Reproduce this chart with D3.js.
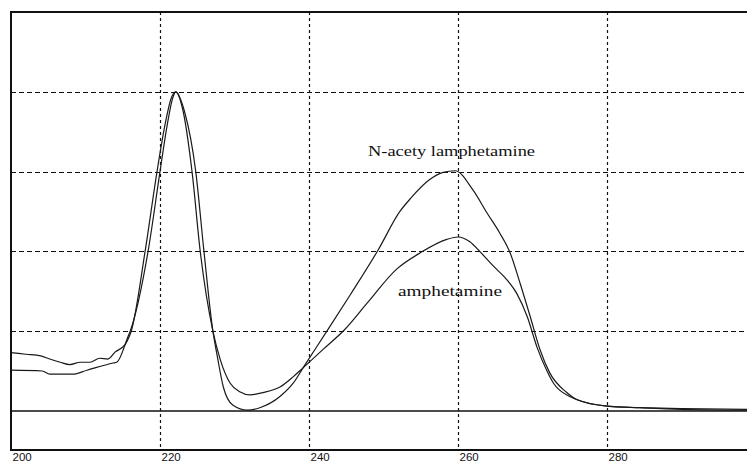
<!DOCTYPE html>
<html>
<head>
<meta charset="utf-8">
<script src="https://cdn.jsdelivr.net/npm/d3@7"></script>
<style>
body { margin: 0; background: #fff; }
svg { display: block; }
</style>
</head>
<body>
<div class="chart-parent"></div>
<script>
// wavelength (nm) / absorbance pairs
var amphetamine = [
  [200,0.73],[202,0.71],[204,0.69],[205.2,0.65],[206.6,0.61],[207.9,0.58],[209.3,0.61],
  [210.6,0.61],[211.9,0.66],[213,0.65],[214,0.74],[215.3,0.83],[216.2,1.02],[218,2.0],
  [219.6,3.0],[220.7,3.6],[221.5,3.92],[222.1,4.0],[223,3.8],[224.3,3.0],[225.4,2.0],
  [227.1,1.0],[228.1,0.64],[229.4,0.35],[230.7,0.24],[232.1,0.20],[233.8,0.23],[236.1,0.30],
  [237.9,0.43],[239.2,0.54],[242,0.78],[244.8,1.02],[247.8,1.35],[251.8,1.78],
  [254.9,1.98],[258.5,2.15],[260,2.18],[261.6,2.12],[263,1.99],[264.7,1.82],[266.6,1.64],
  [267.9,1.47],[269.3,1.18],[270.6,0.80],[271.9,0.51],[272.8,0.35],[275,0.18],[276,0.14],
  [280,0.06],[284.4,0.04],[290,0.02],[299,0.01]
];
var nAcetylamphetamine = [
  [200,0.51],[204.2,0.50],[205.2,0.46],[208.3,0.46],[210.2,0.51],[213.7,0.60],[214.2,0.61],
  [215.7,0.93],[216,1.0],[218.4,2.0],[220,3.0],[221,3.6],[221.7,3.92],[222.1,4.0],[223.3,3.75],
  [224.8,3.0],[225.9,2.0],[227.1,1.0],[227.7,0.68],[228.5,0.30],[229.8,0.07],[231.7,0.01],
  [233.4,0.04],[236.1,0.18],[237.9,0.35],[239.2,0.54],[242.4,1.0],[245.5,1.45],[249.3,2.02],
  [252.2,2.50],[253.6,2.66],[256.2,2.90],[258,2.99],[259.6,3.01],[262,2.77],[263.9,2.48],
  [265.6,2.23],[267,1.98],[268.3,1.61],[269.7,1.18],[271,0.77],[272.3,0.48],[274.6,0.23],
  [276,0.14],[280,0.06],[284.4,0.04],[290,0.03],[299,0.02]
];
var xTicks = [200, 220, 240, 260, 280];
var yGrid = [1, 2, 3, 4];
var labels = ["N-acety lamphetamine", "amphetamine"];

drawChart();

function drawChart(){
  var width = 747, height = 464;
  var left = 11, top = 12, bottom = 450;

  var x = d3.scaleLinear().domain([200, 300]).range([left, left + 745]);
  var y = d3.scaleLinear().domain([-0.49, 5]).range([bottom, top]);

  var svg = d3.select(".chart-parent").append("svg")
    .attr("width", width)
    .attr("height", height);

  // dashed horizontal grid
  svg.selectAll(".hgrid")
    .data(yGrid)
    .enter()
    .append("line")
    .attr("class", "hgrid")
    .attr("x1", left).attr("x2", width)
    .attr("y1", function(d){ return Math.round(y(d)) + 0.5; })
    .attr("y2", function(d){ return Math.round(y(d)) + 0.5; })
    .attr("stroke", "#111")
    .attr("stroke-width", 1.2)
    .attr("stroke-dasharray", "5,3");

  // dotted vertical grid
  svg.selectAll(".vgrid")
    .data(xTicks.slice(1))
    .enter()
    .append("line")
    .attr("class", "vgrid")
    .attr("x1", function(d){ return Math.round(x(d)) + 0.5; })
    .attr("x2", function(d){ return Math.round(x(d)) + 0.5; })
    .attr("y1", top).attr("y2", bottom)
    .attr("stroke", "#111")
    .attr("stroke-width", 1.2)
    .attr("stroke-dasharray", "3,3");

  // zero line
  svg.append("line")
    .attr("x1", left).attr("x2", width)
    .attr("y1", y(0)).attr("y2", y(0))
    .attr("stroke", "#111")
    .attr("stroke-width", 1.5);

  // frame
  svg.append("path")
    .attr("d", "M" + width + "," + top + "H" + left + "V" + bottom + "H" + width)
    .attr("fill", "none")
    .attr("stroke", "#111")
    .attr("stroke-width", 2);

  var line = d3.line()
    .x(function(d){ return x(d[0]); })
    .y(function(d){ return y(d[1]); })
    .curve(d3.curveMonotoneX);

  svg.selectAll(".spectrum")
    .data([amphetamine, nAcetylamphetamine])
    .enter()
    .append("path")
    .attr("class", "spectrum")
    .attr("d", line)
    .attr("fill", "none")
    .attr("stroke", "#1a1a1a")
    .attr("stroke-width", 1.2);

  var xAxis = d3.axisBottom(x).tickValues(xTicks).tickSize(0).tickPadding(0);
  var gx = svg.append("g")
    .attr("transform", "translate(0," + (bottom + 2) + ")")
    .call(xAxis);
  gx.select(".domain").remove();
  gx.selectAll("text")
    .attr("text-anchor", "start")
    .attr("dy", "0.78em")
    .attr("dx", 1)
    .style("font-family", "Liberation Sans, Arial, sans-serif")
    .style("font-size", "11.5px")
    .attr("fill", "#111");

  svg.append("text")
    .attr("x", 368).attr("y", 156)
    .attr("textLength", 167)
    .attr("lengthAdjust", "spacingAndGlyphs")
    .style("font-family", "Liberation Serif, Times New Roman, serif")
    .style("font-size", "15px")
    .attr("fill", "#111")
    .text(labels[0]);

  svg.append("text")
    .attr("x", 398).attr("y", 296)
    .attr("textLength", 104)
    .attr("lengthAdjust", "spacingAndGlyphs")
    .style("font-family", "Liberation Serif, Times New Roman, serif")
    .style("font-size", "15px")
    .attr("fill", "#111")
    .text(labels[1]);
}
</script>
</body>
</html>
